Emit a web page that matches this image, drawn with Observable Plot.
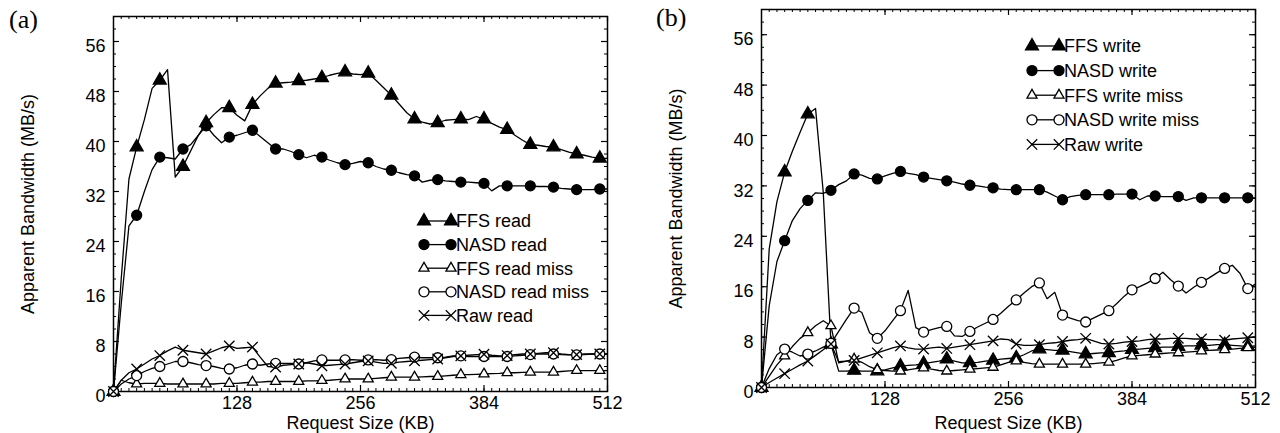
<!DOCTYPE html>
<html><head><meta charset="utf-8">
<script src="https://cdn.jsdelivr.net/npm/d3@7"></script>
<script src="https://cdn.jsdelivr.net/npm/@observablehq/plot@0.6"></script>
<style>
body{margin:0;background:#fff;}
#wrap{position:relative;width:1280px;height:433px;overflow:hidden;background:#fff;}
.panel{position:absolute;top:0;}
.tag{position:absolute;font-family:"Liberation Serif","Times New Roman",serif;font-size:26px;line-height:1;color:#000;}
</style></head><body>
<div id="wrap"></div>
<script>
// Request sizes (KB)
const sizesKB = [0,8,16,24,32,40,48,56,64,72,80,88,96,104,112,120,128,136,144,152,160,168,176,184,192,200,208,216,224,232,240,248,256,264,272,280,288,296,304,312,320,328,336,344,352,360,368,376,384,392,400,408,416,424,432,440,448,456,464,472,480,488,496,504,512];
const xTickLabels = [128,256,384,512];
const yTickLabels = [0,8,16,24,32,40,48,56];

// Panel (a): reads (MB/s)
const ffsRead = [0,18,34,39.1,43.5,48.5,49.8,51.5,34.3,36.0,38.5,41.0,43.0,44.3,45.4,45.4,44.2,43.3,45.9,47.3,48.5,49.3,49.4,49.5,49.7,49.8,50.0,50.2,50.6,50.9,51.1,50.8,50.7,50.9,49.8,48.6,47.4,46.0,44.6,43.6,43.1,42.8,43.0,43.4,43.5,43.6,43.5,44.0,43.6,42.9,42.3,41.9,41.0,40.2,39.5,39.4,39.2,39.1,38.7,38.3,38.0,37.8,37.5,37.3,37.3];
const nasdRead = [0,14,26.5,28.2,32.0,35.5,37.5,37.4,37.2,38.8,39.5,41.0,42.5,41.0,39.8,40.7,41.0,41.4,41.8,40.8,39.8,38.8,38.8,38.4,37.9,37.4,37.8,37.5,37.0,36.6,36.3,36.5,36.8,36.6,36.0,35.6,35.4,35.0,34.7,34.5,33.5,33.8,33.9,33.7,33.6,33.5,33.5,33.4,33.3,32.1,32.9,32.9,32.9,32.9,32.9,32.8,32.8,32.7,32.5,32.4,32.3,32.3,32.3,32.4,32.4];
const ffsReadMiss = [0,1.8,1.4,1.2,1.3,1.3,1.3,1.2,1.2,1.2,1.2,1.2,1.2,1.2,1.3,1.3,1.3,1.4,1.5,1.5,1.6,1.6,1.6,1.6,1.6,1.7,1.7,1.75,1.8,1.9,2.0,2.0,2.0,2.0,2.1,2.2,2.3,2.3,2.3,2.3,2.35,2.4,2.4,2.5,2.6,2.7,2.7,2.75,2.8,2.85,2.9,3.0,3.0,3.05,3.1,3.1,3.1,3.1,3.2,3.3,3.35,3.35,3.35,3.35,3.35];
const nasdReadMiss = [0,1.2,2.0,2.55,3.2,3.7,4.0,4.4,4.8,4.8,4.6,4.3,4.15,4.0,3.7,3.6,3.8,4.2,4.4,4.2,4.4,4.5,4.5,4.5,4.4,4.6,4.9,5.05,5.0,5.0,5.05,5.1,5.0,5.05,5.1,5.0,5.1,5.3,5.4,5.5,5.4,5.4,5.4,5.5,5.7,5.7,5.6,5.6,5.6,5.6,5.6,5.6,5.7,5.8,5.9,6.0,6.0,6.0,5.9,5.85,5.85,5.9,6.0,6.0,6.0];
const rawRead = [0,1.8,3.0,3.6,4.4,5.2,5.75,6.5,7.1,6.6,6.4,6.2,6.0,6.5,7.0,7.3,6.9,7.0,7.1,5.5,4.0,3.9,4.2,4.3,4.4,4.6,4.4,4.1,4.2,4.3,4.4,4.6,4.8,4.9,4.7,4.5,4.5,4.7,4.8,4.9,5.0,5.1,5.2,5.4,5.6,5.7,5.8,5.9,5.96,5.8,5.7,5.75,5.9,6.0,6.0,6.1,6.2,6.2,6.0,5.9,5.9,6.0,6.0,6.0,6.0];

// Panel (b): writes (MB/s)
const ffsWrite = [0,22,29.5,34.2,37.5,40.5,43.4,44.3,31,6.9,2.6,2.6,2.7,2.6,2.6,2.6,2.8,3.1,3.4,3.5,3.6,3.8,4.0,4.2,4.5,4.2,3.9,3.9,4.0,4.2,4.3,4.5,4.6,4.7,5.2,5.8,6.1,6.0,5.9,5.9,5.7,5.5,5.3,5.4,5.5,5.5,5.7,5.8,6.0,6.1,6.2,6.3,6.4,6.4,6.5,6.6,6.6,6.7,6.7,6.8,6.8,6.7,6.6,6.5,6.6];
const nasdWrite = [0,13,20,23.3,26.5,28.4,29.7,30.9,30.8,31.3,32.2,32.8,33.9,33.7,33.2,33.1,33.6,34.0,34.3,34.0,33.8,33.4,33.2,33.0,32.8,32.6,32.3,32.1,32.0,31.8,31.7,31.5,31.4,31.4,31.4,31.4,31.4,31.0,30.4,29.8,30.3,30.5,30.6,30.6,30.6,30.6,30.7,30.7,30.7,29.8,30.4,30.4,30.3,30.3,30.3,29.7,30.1,30.1,30.1,30.1,30.1,30.1,30.1,30.1,30.1];
const ffsWriteMiss = [0,1.8,3.6,5.0,6.5,7.8,8.7,9.8,10.6,9.8,3.9,4.2,4.5,4.0,3.3,2.8,2.7,2.6,2.6,2.8,3.0,3.1,2.9,2.7,2.6,2.7,2.8,2.9,3.0,3.1,3.2,3.6,4.0,4.2,4.0,3.8,3.7,3.7,3.7,3.7,3.7,3.7,3.7,3.8,3.9,4.0,4.3,4.7,5.0,5.1,5.2,5.3,5.4,5.5,5.5,5.6,5.7,5.8,5.9,5.95,6.0,6.1,6.2,6.3,6.4];
const nasdWriteMiss = [0,3,5.2,6.1,5.6,5.0,5.3,5.8,6.4,7.0,8.9,10.8,12.6,11.9,8.7,7.8,9.0,10.6,12.2,15.4,9.5,8.8,9.2,9.5,9.7,8.2,8.1,8.9,9.6,10.2,10.8,11.8,12.9,13.9,15.0,16.0,16.6,14.1,15.1,11.5,11.0,10.6,10.4,11.0,11.6,12.2,13.3,14.5,15.5,16.0,16.6,17.3,18.3,17.1,16.1,15.0,15.9,16.7,17.4,18.2,18.9,19.4,18.1,15.7,16.4];
const rawWrite = [0,0.8,1.5,2.2,2.9,3.6,4.2,5.1,6.0,6.9,4.1,4.2,4.3,4.7,5.1,5.5,5.9,6.3,6.6,6.3,6.1,6.1,6.3,6.4,6.2,6.4,6.6,6.8,7.0,7.2,7.4,7.7,7.6,6.9,6.7,6.7,6.8,7.0,7.1,7.3,7.5,7.6,7.8,7.4,7.0,6.9,7.0,7.2,7.3,7.4,7.6,7.7,7.7,7.8,7.8,7.8,7.7,7.7,7.6,7.6,7.5,7.7,7.8,7.9,8.0];

const readNames = ["FFS read","NASD read","FFS read miss","NASD read miss","Raw read"];
const writeNames = ["FFS write","NASD write","FFS write miss","NASD write miss","Raw write"];
const symbolStyles = [
  {symbol:"triangle", fill:"black", stroke:"black", r:4.8},
  {symbol:"circle", fill:"black", stroke:"black", r:5.0},
  {symbol:"triangle2", fill:"white", stroke:"black", r:4.8},
  {symbol:"circle", fill:"white", stroke:"black", r:5.0},
  {symbol:"times", fill:"none", stroke:"black", r:4.8}
];

const FONT = '"Liberation Sans", Arial, Helvetica, sans-serif';
const wrap = document.getElementById("wrap");

function panel(seriesList, names, cfg) {
  const rows = seriesList.map(arr => sizesKB.map((x, i) => ({x, y: arr[i], i})));
  const iw = 640 - cfg.ml - cfg.mr, ih = 433 - cfg.mt - cfg.mb;
  const minorX = sizesKB.filter(v => v > 0 && v < 512);
  const minorY = d3.range(2, 60, 2);
  const majorY = yTickLabels.filter(v => v > 0);
  const marks = [
    Plot.frame({stroke: "black", strokeWidth: 1.5}),
    Plot.tickX(minorX, {x: d => d, insetTop: ih - 3, stroke: "black", strokeWidth: 1}),
    Plot.tickX(minorX, {x: d => d, insetBottom: ih - 3, stroke: "black", strokeWidth: 1}),
    Plot.tickY(minorY, {y: d => d, insetRight: iw - 3, stroke: "black", strokeWidth: 1}),
    Plot.tickY(minorY, {y: d => d, insetLeft: iw - 3, stroke: "black", strokeWidth: 1}),
    Plot.tickX(xTickLabels, {x: d => d, insetTop: ih - 6, stroke: "black", strokeWidth: 1.2}),
    Plot.tickX(xTickLabels, {x: d => d, insetBottom: ih - 6, stroke: "black", strokeWidth: 1.2}),
    Plot.tickY(majorY, {y: d => d, insetRight: iw - 6, stroke: "black", strokeWidth: 1.2}),
    Plot.tickY(majorY, {y: d => d, insetLeft: iw - 6, stroke: "black", strokeWidth: 1.2}),
    Plot.axisX({ticks: xTickLabels, tickSize: 0, tickPadding: 5, label: null, fontSize: 18}),
    Plot.axisY({ticks: yTickLabels, tickSize: 0, tickPadding: 8, label: null, fontSize: 18, dy: 5}),
    Plot.text(["Request Size (KB)"], {frameAnchor: "bottom", lineAnchor: "middle", dy: cfg.xTitleDy, fontSize: 18}),
    Plot.text(["Apparent Bandwidth (MB/s)"], {frameAnchor: "left", textAnchor: "middle", lineAnchor: "middle", dx: -85, rotate: -90, fontSize: 18})
  ];
  rows.forEach(r => marks.push(Plot.line(r, {x: "x", y: "y", stroke: "black", strokeWidth: 1.3})));
  rows.forEach((r, k) => {
    const s = symbolStyles[k];
    marks.push(Plot.dot(r, {filter: d => d.i % 3 === 0, x: "x", y: "y", symbol: s.symbol, fill: s.fill, stroke: s.stroke, r: s.r, strokeWidth: 1.3}));
  });
  const svg = Plot.plot({
    width: 640, height: 433,
    marginLeft: cfg.ml, marginRight: cfg.mr, marginTop: cfg.mt, marginBottom: cfg.mb,
    x: {domain: [0, 512]},
    y: {domain: [0, 60]},
    style: {fontFamily: FONT, fontSize: "18px", color: "black", background: "white", overflow: "visible"},
    marks
  });
  const div = document.createElement("div");
  div.className = "panel";
  div.style.left = cfg.left + "px";
  div.appendChild(svg);
  wrap.appendChild(div);

  const lg = d3.select(wrap).append("svg")
    .attr("width", 640).attr("height", 433)
    .style("position", "absolute").style("left", cfg.left + "px").style("top", "0px")
    .style("pointer-events", "none");
  const symMap = {triangle: d3.symbolTriangle, circle: d3.symbolCircle, triangle2: d3.symbolTriangle2, times: d3.symbolTimes};
  names.forEach((name, k) => {
    const s = symbolStyles[k];
    const y = cfg.legY + k * cfg.legStep;
    const g = lg.append("g");
    g.append("line").attr("x1", cfg.legX).attr("x2", cfg.legX + 27).attr("y1", y).attr("y2", y)
      .attr("stroke", "black").attr("stroke-width", 1.3);
    [cfg.legX, cfg.legX + 27].forEach(x => {
      g.append("path").attr("d", d3.symbol(symMap[s.symbol], Math.PI * s.r * s.r)())
        .attr("transform", `translate(${x},${y})`)
        .attr("fill", s.fill).attr("stroke", s.stroke).attr("stroke-width", 1.3);
    });
    g.append("text").attr("x", cfg.legX + 32).attr("y", y).attr("dy", "0.36em")
      .attr("font-family", FONT).attr("font-size", 18).text(name);
  });
}

panel([ffsRead, nasdRead, ffsReadMiss, nasdReadMiss, rawRead], readNames,
  {left: 0, ml: 113, mr: 33, mt: 16, mb: 42, xTitleDy: 32, legX: 424, legY: 221, legStep: 23.6});
panel([ffsWrite, nasdWrite, ffsWriteMiss, nasdWriteMiss, rawWrite], writeNames,
  {left: 640, ml: 121, mr: 25, mt: 9, mb: 46, xTitleDy: 36, legX: 392, legY: 46, legStep: 24.6});

const ta = document.createElement("div"); ta.className = "tag"; ta.textContent = "(a)";
ta.style.left = "9px"; ta.style.top = "7px"; wrap.appendChild(ta);
const tb = document.createElement("div"); tb.className = "tag"; tb.textContent = "(b)";
tb.style.left = "656px"; tb.style.top = "5px"; wrap.appendChild(tb);
</script>
</body></html>
